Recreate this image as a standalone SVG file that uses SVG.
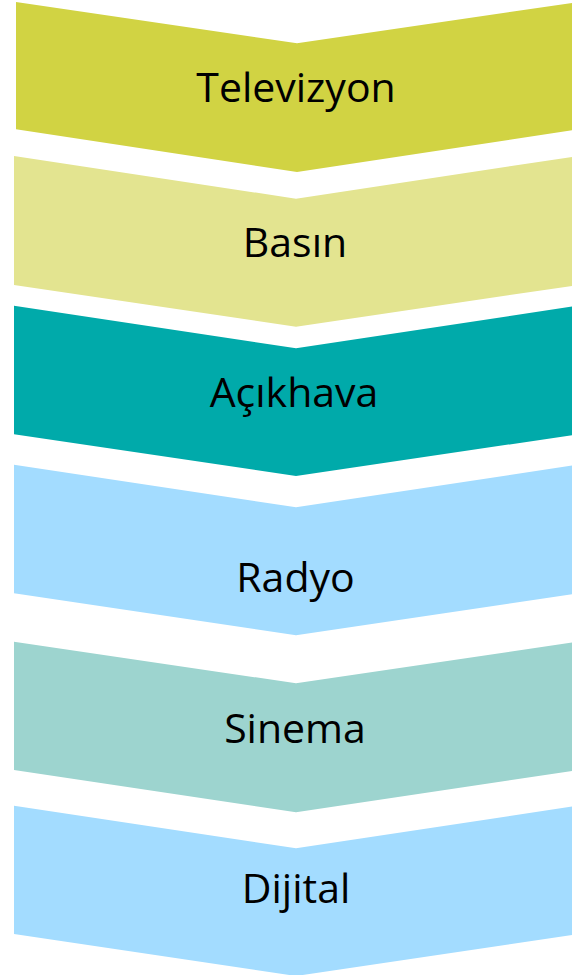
<svg xmlns="http://www.w3.org/2000/svg" width="572" height="975" viewBox="0 0 572 975">
<style>
text{font-family:"Open Sans","Noto Sans","DejaVu Sans",sans-serif;font-size:41px;fill:#000;text-anchor:middle}
</style>
<rect width="572" height="975" fill="#fff"/>
<g id="televizyon">
<path d="M16,2 L297,43.3 L578,2 L578,129.3 L297,172 L16,129.3 Z" fill="#D1D343"/>
<text x="296" y="101.7">Televizyon</text>
</g>
<g id="basin">
<path d="M14,156 L296,198.7 L578,156 L578,285 L296,326.7 L14,285 Z" fill="#E3E490"/>
<text x="295" y="257.3">Basın</text>
</g>
<g id="acikhava">
<path d="M14,305.7 L296,348.3 L578,305.7 L578,434.3 L296,476 L14,434.3 Z" fill="#00AAAA"/>
<text x="294" y="406.7">Açıkhava</text>
</g>
<g id="radyo">
<path d="M14,464.7 L296,507.3 L578,464.7 L578,593.3 L296,635.3 L14,593.3 Z" fill="#A3DCFF"/>
<text x="295.5" y="591.7">Radyo</text>
</g>
<g id="sinema">
<path d="M14,641.7 L296,683.3 L578,641.7 L578,770 L296,812.3 L14,770 Z" fill="#9DD4CF"/>
<text x="295" y="742.7">Sinema</text>
</g>
<g id="dijital">
<path d="M14,805.7 L296,848.3 L578,805.7 L578,934 L296,976 L14,934 Z" fill="#A3DCFF"/>
<text x="296" y="903.3">Dijital</text>
</g>
<g id="connectors"/>
</svg>
